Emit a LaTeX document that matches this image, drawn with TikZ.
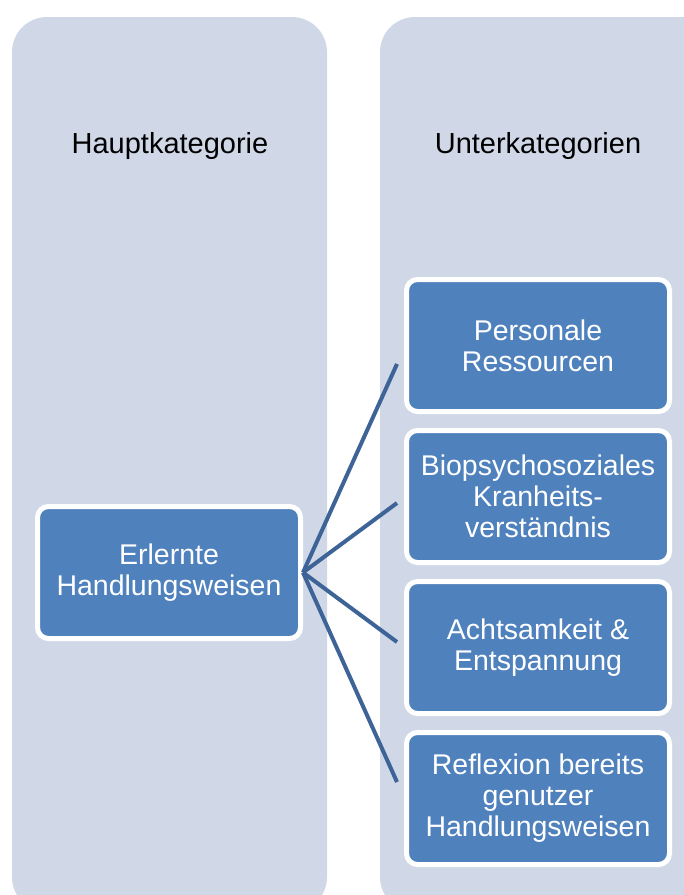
\documentclass[tikz,border=0pt]{standalone}
\usepackage{fontspec}
\setmainfont{Liberation Sans}
\definecolor{colbg}{HTML}{D0D8E8}
\definecolor{boxblue}{HTML}{4F81BD}
\definecolor{linkblue}{HTML}{3E6497}
\begin{document}
\begin{tikzpicture}[x=1pt,y=-1pt,
  column/.style={fill=colbg, draw=none, rounded corners=35pt},
  catbox/.style={draw=white, line width=5pt, fill=boxblue, rounded corners=11pt,
    minimum width=263pt, minimum height=132pt, inner sep=0pt,
    text=white, font=\fontsize{28.5}{31}\selectfont, align=center},
  header/.style={font=\fontsize{29}{31}\selectfont, text=black},
  link/.style={draw=linkblue, line width=4pt}]
\useasboundingbox (0,0) rectangle (684,895);
\begin{scope}
\clip (0,0) rectangle (684,895);
\path[column] (12,17) rectangle (327,912);
\path[column] (380,17) rectangle (720,912);
\end{scope}
\node[header] (hk) at (170,146) {Hauptkategorie};
\node[header] (uk) at (538,146) {Unterkategorien};
\node[catbox] (main) at (169,572.5) {Erlernte\\Handlungsweisen};
\node[catbox] (s1) at (538,345.5) {Personale\\Ressourcen};
\node[catbox] (s2) at (538,496.5) {Biopsychosoziales\\Kranheits-\\verständnis};
\node[catbox] (s3) at (538,647.5) {Achtsamkeit \&\\Entspannung};
\node[catbox] (s4) at (538,798.5) {Reflexion bereits\\genutzer\\Handlungsweisen};
\coordinate (e1) at (397,364);
\coordinate (e2) at (397,503);
\coordinate (e3) at (397,642);
\coordinate (e4) at (397,782);
\foreach \e in {e1,e2,e3,e4}{\draw[link] (main.east) -- (\e);}
\end{tikzpicture}
\end{document}
